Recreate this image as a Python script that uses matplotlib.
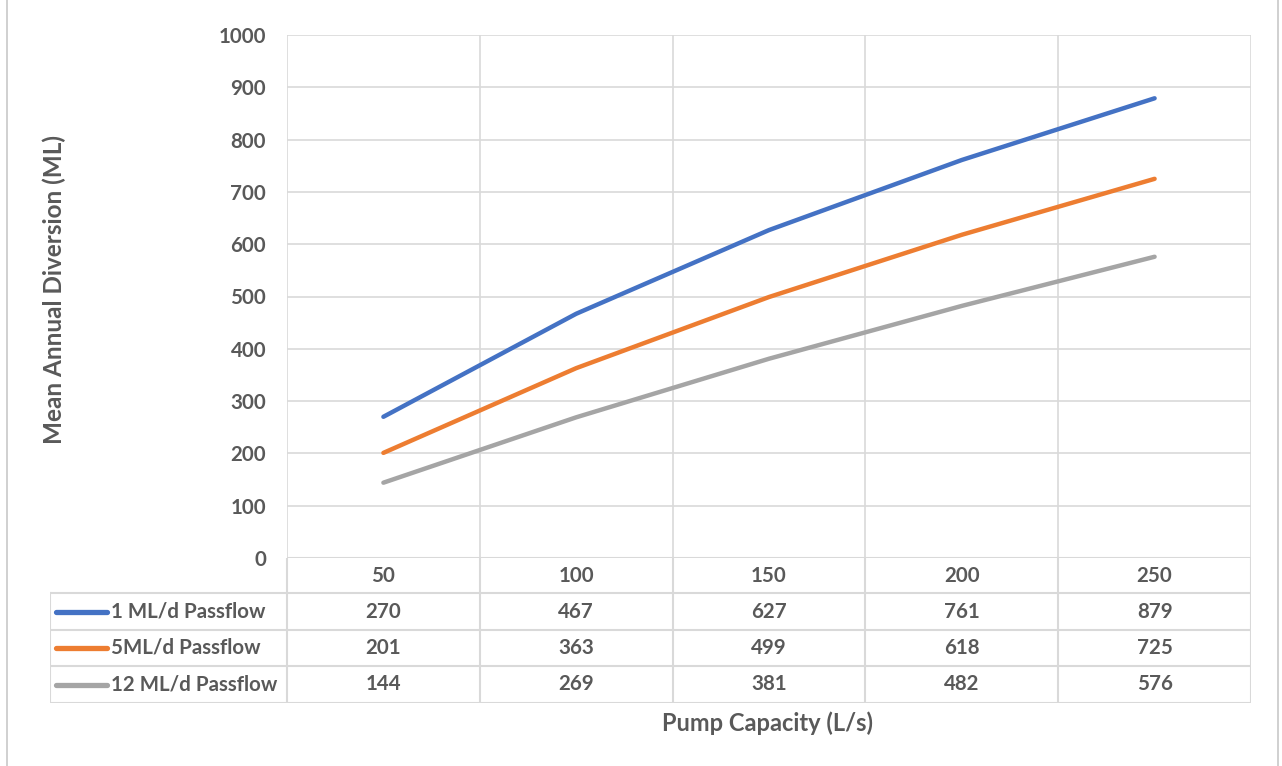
import matplotlib.pyplot as plt
from matplotlib.lines import Line2D

# data
pump_capacity = [50, 100, 150, 200, 250]
series_names = ['1 ML/d Passflow', '5ML/d Passflow', '12 ML/d Passflow']
passflow_1 = [270, 467, 627, 761, 879]
passflow_5 = [201, 363, 499, 618, 725]
passflow_12 = [144, 269, 381, 482, 576]
colors = ['#4472C4', '#ED7D31', '#A5A5A5']

text_col = '#595959'
grid_col = '#D9D9D9'
plt.rcParams['font.family'] = ['Lato', 'DejaVu Sans']

W, H = 1282, 766
fig = plt.figure(figsize=(W / 100, H / 100), dpi=100)

# pixel box of the plot area
left, right, top, bottom = 287, 1251, 35, 558
ax = fig.add_axes([left / W, 1 - bottom / H, (right - left) / W, (bottom - top) / H])

series = [passflow_1, passflow_5, passflow_12]
xs = list(range(len(pump_capacity)))
for vals, c in zip(series, colors):
    ax.plot(xs, vals, color=c, lw=3.2, solid_capstyle='round', zorder=3)

ax.set_xlim(-0.5, len(pump_capacity) - 0.5)
ax.set_ylim(0, 1000)
ax.set_yticks(range(0, 1001, 100))
ax.set_xticks([x + 0.5 for x in xs[:-1]])
ax.set_xticklabels([])
ax.grid(True, color=grid_col, lw=1.2)
ax.tick_params(length=0, labelsize=14.8, labelcolor=text_col, pad=15)
for lab in ax.get_yticklabels():
    lab.set_fontweight('bold')
for s in ax.spines.values():
    s.set_visible(False)
ax.axhline(0, color=grid_col, lw=1.5, zorder=2)
ax.axvline(-0.5, color=grid_col, lw=1.2)
ax.axvline(len(pump_capacity) - 0.5, color=grid_col, lw=1.2)

ax.set_ylabel('Mean Annual Diversion (ML)', fontsize=17.5, fontweight='bold',
              color=text_col)
ax.yaxis.set_label_coords((66 - left) / (right - left), (558 - 290) / 523)

# data table underneath the plot
tleft, tbottom = 50, 703
cat_w = (right - left) / len(pump_capacity)
tab = fig.add_axes([tleft / W, 1 - tbottom / H, (right - tleft) / W, (tbottom - bottom) / H])
x0 = -0.5 - (left - tleft) / cat_w
tab.set_xlim(x0, len(pump_capacity) - 0.5)
row_h = [35, 37, 36, 37]
edges = [0]
for h in row_h:
    edges.append(edges[-1] + h)
tab.set_ylim(edges[-1], 0)
tab.axis('off')

lc = dict(color=grid_col, lw=1.5)
# vertical lines
for i in range(len(pump_capacity) + 1):
    tab.plot([i - 0.5, i - 0.5], [0, edges[-1]], **lc)
tab.plot([x0, x0], [edges[1], edges[-1]], **lc)
# horizontal lines
for e in edges[1:]:
    tab.plot([x0, len(pump_capacity) - 0.5], [e, e], **lc)

fs = 14.8
for i, cap in enumerate(pump_capacity):
    tab.text(i, (edges[0] + edges[1]) / 2 + 1, str(cap), ha='center', va='center',
             fontsize=fs, fontweight='bold', color=text_col)
for r, (name, vals, c) in enumerate(zip(series_names, series, colors)):
    yc = (edges[r + 1] + edges[r + 2]) / 2
    for i, v in enumerate(vals):
        tab.text(i, yc, str(v), ha='center', va='center', fontsize=fs,
                 fontweight='bold', color=text_col)
    sx = x0 + 6 / cat_w
    tab.plot([sx, sx + 51 / cat_w], [yc, yc], color=c, lw=3.8, solid_capstyle='round')
    tab.text(sx + 55 / cat_w, yc, name, ha='left', va='center', fontsize=fs,
             fontweight='bold', color=text_col)

fig.text(768 / W, 1 - 723 / H, 'Pump Capacity (L/s)', ha='center', va='center',
         fontsize=17, fontweight='bold', color=text_col)

# outer chart frame edges
for px in (7, 1278):
    fig.add_artist(Line2D([px / W, px / W], [0, 1], color='#C8C8C8', lw=1.2))

fig.savefig('out.png', dpi=100)
